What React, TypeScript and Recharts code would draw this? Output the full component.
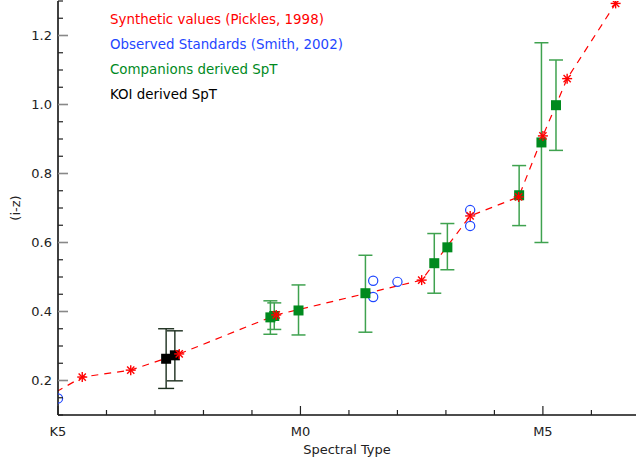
import React from 'react'
import {
  ComposedChart,
  Line,
  Scatter,
  XAxis,
  YAxis,
  ErrorBar,
  Legend
} from 'recharts'

// spectral type axis: 0 = K5, 5 = M0, 10 = M5 (one unit per subtype)
const typeTicks = [0, 1, 2, 3, 4, 5, 6, 7, 8, 9, 10, 11]
const typeLabelAt = [0, 5, 10]
const typeLabels = ['K5', 'M0', 'M5']

// Synthetic values (Pickles, 1998); first point sits left of the frame
const pickleX = [-0.5, 0.5, 1.5, 2.5, 4.5, 7.5, 8.5, 9.5, 10.0, 10.5, 11.5]
const pickleY = [0.13, 0.21, 0.23, 0.277, 0.39, 0.491, 0.677, 0.732, 0.909, 1.075, 1.293]

// Observed Standards (Smith, 2002)
const smithX = [0, 6.5, 6.5, 7.0, 8.5, 8.5]
const smithY = [0.148, 0.489, 0.442, 0.486, 0.694, 0.648]

// Companions derived SpT
const compX = [4.38, 4.46, 4.96, 6.34, 7.76, 8.03, 9.51, 9.97, 10.27]
const compY = [0.383, 0.387, 0.403, 0.453, 0.54, 0.586, 0.737, 0.89, 0.998]
const compLow = [0.334, 0.348, 0.332, 0.34, 0.453, 0.521, 0.649, 0.6, 0.867]
const compHigh = [0.431, 0.425, 0.477, 0.563, 0.626, 0.655, 0.823, 1.179, 1.129]

// KOI derived SpT
const koiX = [2.23, 2.41]
const koiY = [0.263, 0.273]
const koiLow = [0.177, 0.199]
const koiHigh = [0.35, 0.344]

const legendItems = [
  { name: 'Synthetic values (Pickles, 1998)', color: '#ff0000' },
  { name: 'Observed Standards (Smith, 2002)', color: '#1e46ff' },
  { name: 'Companions derived SpT', color: '#008a1e' },
  { name: 'KOI derived SpT', color: '#000000' }
]

const yTicks: number[] = []
for (let i = 2; i <= 26; i++) yTicks.push(Math.round(i * 5) / 100)

const FONT = '"DejaVu Sans", sans-serif'

const pickles = pickleX.map((x, i) => ({ x, y: pickleY[i] }))
const smith = smithX.map((x, i) => ({ x, y: smithY[i] }))
const companions = compX.map((x, i) => ({
  x,
  y: compY[i],
  err: [compY[i] - compLow[i], compHigh[i] - compY[i]]
}))
const kois = koiX.map((x, i) => ({
  x,
  y: koiY[i],
  err: [koiY[i] - koiLow[i], koiHigh[i] - koiY[i]]
}))

const isMajorY = (v: number) => Math.abs(Math.round(v * 5) - v * 5) < 1e-6

const Asterisk = ({ cx, cy }: any) => {
  const r = 5
  const d = r * 0.72
  return (
    <g stroke="#ff0000" strokeWidth={1.4}>
      <line x1={cx - r} y1={cy} x2={cx + r} y2={cy} />
      <line x1={cx} y1={cy - r} x2={cx} y2={cy + r} />
      <line x1={cx - d} y1={cy - d} x2={cx + d} y2={cy + d} />
      <line x1={cx - d} y1={cy + d} x2={cx + d} y2={cy - d} />
    </g>
  )
}

const Circle = ({ cx, cy }: any) => (
  <circle cx={cx} cy={cy} r={4.6} fill="none" stroke="#1e46ff" strokeWidth={1.2} />
)

const square = (color: string) => ({ cx, cy }: any) => (
  <rect x={cx - 5} y={cy - 5} width={10} height={10} fill={color} />
)

const BottomTick = ({ x, y, payload }: any) => {
  const idx = typeLabelAt.indexOf(payload.value)
  const major = idx >= 0
  return (
    <g>
      <line x1={x} x2={x} y1={y} y2={y - (major ? 9 : 5)} stroke="#222" strokeWidth={1.2} />
      {major && (
        <text x={x} y={y + 16} textAnchor="middle" dominantBaseline="central"
          fontFamily={FONT} fontSize={13} fill="#222">
          {typeLabels[idx]}
        </text>
      )}
    </g>
  )
}

const TopTick = ({ x, y, payload }: any) => {
  const major = typeLabelAt.includes(payload.value)
  return <line x1={x} x2={x} y1={y} y2={y + (major ? 9 : 5)} stroke="#222" strokeWidth={1.2} />
}

const LeftTick = ({ x, y, payload }: any) => {
  const major = isMajorY(payload.value)
  return (
    <g>
      <line x1={x} x2={x + (major ? 10 : 5)} y1={y} y2={y}
        stroke={major ? '#888' : '#222'} strokeWidth={major ? 1.6 : 1.2} />
      {major && (
        <text x={x - 6} y={y} textAnchor="end" dominantBaseline="central"
          fontFamily={FONT} fontSize={13} fill="#222">
          {payload.value.toFixed(1)}
        </text>
      )}
    </g>
  )
}

const RightTick = ({ x, y, payload }: any) => {
  const major = isMajorY(payload.value)
  return (
    <line x1={x} x2={x - (major ? 10 : 5)} y1={y} y2={y}
      stroke={major ? '#888' : '#222'} strokeWidth={major ? 1.6 : 1.2} />
  )
}

const LegendText = () => (
  <div style={{ fontFamily: FONT, fontSize: 13.4, lineHeight: '25px' }}>
    {legendItems.map(item => (
      <div key={item.name} style={{ color: item.color, whiteSpace: 'nowrap' }}>{item.name}</div>
    ))}
  </div>
)

export default function App() {
  return (
    <div style={{ position: 'absolute', left: 0, top: 0, background: '#fff' }}>
      <ComposedChart
        width={638}
        height={464}
        margin={{ top: 1, right: 2, bottom: 0, left: 0 }}
      >
        <XAxis
          dataKey="x"
          type="number"
          domain={[0, 11.92]}
          allowDataOverflow
          ticks={typeTicks}
          interval={0}
          tickLine={false}
          tickSize={0}
          tickMargin={0}
          tick={<BottomTick />}
          axisLine={{ stroke: '#111', strokeWidth: 1.6 }}
          height={49}
          label={({ viewBox }: any) => (
            <text x={viewBox.x + viewBox.width / 2} y={viewBox.y + 34}
              textAnchor="middle" dominantBaseline="central"
              fontFamily={FONT} fontSize={13} fill="#222">
              Spectral Type
            </text>
          )}
        />
        <XAxis
          xAxisId="top"
          orientation="top"
          dataKey="x"
          type="number"
          domain={[0, 11.92]}
          allowDataOverflow
          ticks={typeTicks}
          interval={0}
          tickLine={false}
          tickSize={0}
          tickMargin={0}
          tick={<TopTick />}
          axisLine={{ stroke: '#111', strokeWidth: 1.6 }}
          height={0}
        />
        <YAxis
          type="number"
          domain={[0.1, 1.3]}
          allowDataOverflow
          ticks={yTicks}
          interval={0}
          tickLine={false}
          tickSize={0}
          tickMargin={0}
          tick={<LeftTick />}
          axisLine={{ stroke: '#111', strokeWidth: 1.6 }}
          width={58}
          label={({ viewBox }: any) => {
            const cx = viewBox.x + 15
            const cy = viewBox.y + viewBox.height / 2
            return (
              <text x={cx} y={cy} transform={`rotate(-90, ${cx}, ${cy})`}
                textAnchor="middle" dominantBaseline="central"
                fontFamily={FONT} fontSize={13} fill="#222">
                (i-z)
              </text>
            )
          }}
        />
        <YAxis
          yAxisId="right"
          orientation="right"
          type="number"
          domain={[0.1, 1.3]}
          allowDataOverflow
          ticks={yTicks}
          interval={0}
          tickLine={false}
          tickSize={0}
          tickMargin={0}
          tick={<RightTick />}
          axisLine={{ stroke: '#111', strokeWidth: 1.6 }}
          width={0}
        />
        <Legend
          layout="vertical"
          align="center"
          verticalAlign="middle"
          wrapperStyle={{ position: 'absolute', left: 110, top: 7, width: 'auto' }}
          content={<LegendText />}
        />
        <Line
          data={pickles}
          dataKey="y"
          type="linear"
          stroke="#ff0000"
          strokeWidth={1.2}
          strokeDasharray="7 6"
          dot={(p: any) => <Asterisk key={`a-${p.index}`} cx={p.cx} cy={p.cy} />}
          activeDot={false}
          isAnimationActive={false}
        />
        <Scatter data={smith} dataKey="y" shape={<Circle />} isAnimationActive={false} />
        <Scatter data={companions} dataKey="y" shape={square('#008a1e')} isAnimationActive={false}>
          <ErrorBar dataKey="err" direction="y" width={7} stroke="#3fa24f" strokeWidth={1.5} />
        </Scatter>
        <Scatter data={kois} dataKey="y" shape={square('#000000')} isAnimationActive={false}>
          <ErrorBar dataKey="err" direction="y" width={8} stroke="#1c2e1e" strokeWidth={1.4} />
        </Scatter>
      </ComposedChart>
    </div>
  )
}
